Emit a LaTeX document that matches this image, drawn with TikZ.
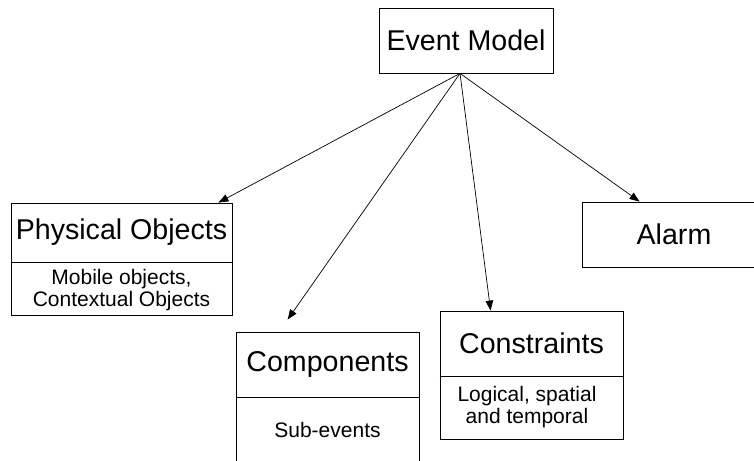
\documentclass[tikz,border=0pt]{standalone}
\usepackage{fontspec}
\setmainfont{Liberation Sans}
\usetikzlibrary{arrows.meta}
\begin{document}
\begin{tikzpicture}[x=1pt,y=1pt,
  box/.style={draw, line width=0.8pt, inner sep=0pt},
  divider/.style={line width=0.8pt},
  title/.style={font=\fontsize{28.6}{30}\selectfont},
  sub/.style={font=\fontsize{21}{22}\selectfont, align=center},
  link/.style={line width=0.7pt, -{Triangle[length=10pt,width=7.5pt]}}]
\useasboundingbox (0,0) rectangle (754,460);
\clip (0,0) rectangle (754,460);

% root
\node[box, minimum width=174, minimum height=65, title] (em) at (466,419.5) {Event Model};
\coordinate (apex) at ([xshift=-6]em.south);

% physical objects
\node[box, minimum width=221, minimum height=112] (po) at (121.5,201) {};
\node[title] (pot) at (121.5,227.5) {Physical Objects};
\node[sub] (pos) at (121.5,170) {Mobile objects,\\Contextual Objects};
\draw[divider] (po.west |- 0,198) -- (po.east |- 0,198);

% components (runs past the lower edge)
\node[box, minimum width=183, minimum height=148] (cm) at (327.5,54) {};
\node[title] (cmt) at (327.5,96) {Components};
\node[sub] (cms) at (327.5,30) {Sub-events};
\draw[divider] (cm.west |- 0,63) -- (cm.east |- 0,63);

% constraints
\node[box, minimum width=183, minimum height=128] (cs) at (531.5,85) {};
\node[title] (cst) at (531.5,116.5) {Constraints};
\node[sub] (css) at (527,53) {Logical, spatial\\and temporal};
\draw[divider] (cs.west |- 0,84) -- (cs.east |- 0,84);

% alarm (runs past the right edge)
\node[box, minimum width=200, minimum height=65] (al) at (682,225.5) {};
\node[title] (alt) at (674,225.5) {Alarm};

% links
\draw[link] (apex) -- ([xshift=-14]po.north east);
\draw[link] (apex) -- ([xshift=52,yshift=12]cm.north west);
\draw[link] (apex) -- ([xshift=51]cs.north west);
\draw[link] (apex) -- ([xshift=58]al.north west);
\end{tikzpicture}
\end{document}
